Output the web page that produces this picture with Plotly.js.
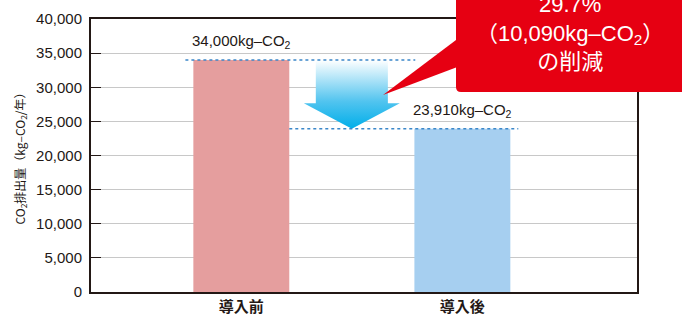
<!DOCTYPE html>
<html><head><meta charset="utf-8">
<script src="https://cdn.plot.ly/plotly-3.0.1.min.js"></script>
<style>html,body{margin:0;padding:0;background:#fff;}#chart{width:682px;height:316px;}</style>
</head><body><div id="chart"></div>
<script>
const categories = ["導入前", "導入後"];
const emissions = [34000, 23910];
const barColors = ["#e59e9e", "#a6cff0"];
const yTickVals = [0, 5000, 10000, 15000, 20000, 25000, 30000, 35000, 40000];

(function () {
const fmt = v => v.toLocaleString("en-US");
const reduction = emissions[0] - emissions[1];
const pct = (reduction / emissions[0] * 100).toFixed(1);

const FONT = "Liberation Sans, Arial, Noto Sans CJK JP, sans-serif";
const INK = "#231815";
const unit = "kg–CO<sub>2</sub>";

const bar = {
  type: "bar", x: [0, 1], y: emissions, width: 0.434,
  marker: {color: barColors}, hoverinfo: "skip"
};

// decorative down arrow between the two levels
const aTop = emissions[0], aTip = emissions[1];
const neck = aTip + 0.37 * (aTop - aTip);
const cx = 0.5, sw = 0.163, hw = 0.217;
const arrow = {
  type: "scatter", mode: "none", fill: "toself",
  x: [cx - sw, cx + sw, cx + sw, cx + hw, cx, cx - hw, cx - sw, cx - sw],
  y: [aTop, aTop, neck, neck, aTip, neck, neck, aTop],
  fillgradient: {type: "vertical", colorscale: [[0, "#00aee9"], [0.4, "#52c4ef"], [1, "#ffffff"]]},
  hoverinfo: "skip", showlegend: false
};

const px = x => (x - 91) / 546, py = y => (292 - y) / 273;
const bx0 = px(456), bx1 = px(700), by0 = py(92), by1 = py(-30);
const rx = 5 / 546, ry = 5 / 273;
const boxPath = `M ${bx0 + rx} ${by0} L ${bx1} ${by0} L ${bx1} ${by1} L ${bx0} ${by1} L ${bx0} ${by0 + ry} Q ${bx0} ${by0} ${bx0 + rx} ${by0} Z`;
const wedgePath = `M ${px(383)} ${py(95)} L ${px(460)} ${py(37)} L ${px(460)} ${py(66)} Z`;

const dotLine = {color: "#3b87c9", width: 1.6, dash: "dot"};

const layout = {
  width: 682, height: 316,
  margin: {l: 91, r: 45, t: 19, b: 24},
  paper_bgcolor: "#fff", plot_bgcolor: "#fff",
  showlegend: false,
  font: {family: FONT, color: INK},
  xaxis: {
    type: "linear", range: [-0.68, 1.79],
    tickvals: [0, 1], ticktext: categories,
    tickfont: {size: 15, family: "Noto Sans CJK JP, sans-serif", color: INK, weight: "bold"},
    ticklabelstandoff: 0,
    showgrid: false, zeroline: false,
    showline: true, linecolor: INK, linewidth: 2, mirror: true, ticks: ""
  },
  yaxis: {
    range: [0, 40000], tickvals: yTickVals, tickformat: ",d",
    tickfont: {size: 15, color: INK},
    showgrid: true, gridcolor: "#c8c8c8", gridwidth: 1, zeroline: false,
    showline: true, linecolor: INK, linewidth: 2, mirror: true,
    ticks: "inside", ticklen: 10, tickcolor: INK, tickwidth: 1,
    ticklabelstandoff: 4,
    title: {text: "CO<sub>2</sub>排出量（kg–CO<sub>2</sub>/年）", standoff: 8,
            font: {size: 12, family: "Noto Sans CJK JP, sans-serif", color: INK}}
  },
  shapes: [
    {type: "line", xref: "x", yref: "y", x0: -0.253, x1: 0.787, y0: emissions[0], y1: emissions[0], line: dotLine, layer: "above"},
    {type: "line", xref: "x", yref: "y", x0: 0.217, x1: 1.253, y0: emissions[1], y1: emissions[1], line: dotLine, layer: "above"},
    {type: "path", xref: "paper", yref: "paper", path: wedgePath, fillcolor: "#e60012", line: {width: 0}, layer: "above"},
    {type: "path", xref: "paper", yref: "paper", path: boxPath, fillcolor: "#e60012", line: {width: 0}, layer: "above"}
  ],
  annotations: [
    {x: 0, y: emissions[0], xref: "x", yref: "y", yanchor: "bottom", yshift: 7, showarrow: false,
     text: fmt(emissions[0]) + unit, font: {size: 15, color: INK}},
    {x: 1, y: emissions[1], xref: "x", yref: "y", yanchor: "bottom", yshift: 7, showarrow: false,
     text: fmt(emissions[1]) + unit, font: {size: 15, color: INK}},
    {x: px(570), y: py(33), xref: "paper", yref: "paper", xanchor: "center", yanchor: "middle", showarrow: false,
     text: pct + "%<br>（" + fmt(reduction) + unit + "）<br>の削減",
     font: {size: 22, color: "#ffffff", family: FONT}}
  ]
};

Plotly.newPlot("chart", [arrow, bar], layout, {displayModeBar: false, staticPlot: true});
})();
</script></body></html>
